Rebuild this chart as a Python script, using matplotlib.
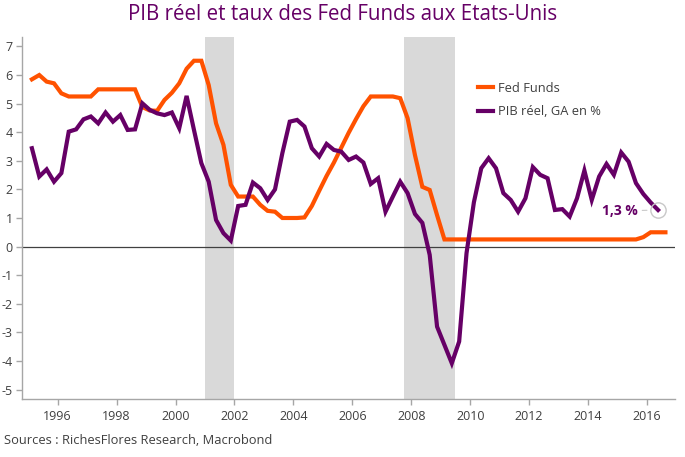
import matplotlib

matplotlib.use("Agg")
import matplotlib.pyplot as plt
import numpy as np
import pandas as pd

# Quarterly data, 1995Q1 onwards
fed_funds = [
    5.85, 6.00, 5.77, 5.71,
    5.36, 5.25, 5.25, 5.25,
    5.25, 5.50, 5.50, 5.50,
    5.50, 5.50, 5.50, 4.88,
    4.76, 4.75, 5.13, 5.38,
    5.71, 6.22, 6.50, 6.50,
    5.65, 4.31, 3.56, 2.16,
    1.75, 1.75, 1.75, 1.46,
    1.25, 1.22, 1.00, 1.00,
    1.00, 1.02, 1.42, 1.95,
    2.47, 2.94, 3.46, 3.98,
    4.46, 4.91, 5.25, 5.25,
    5.25, 5.25, 5.19, 4.49,
    3.20, 2.09, 1.98, 1.10,
    0.25, 0.25, 0.25, 0.25,
    0.25, 0.25, 0.25, 0.25,
    0.25, 0.25, 0.25, 0.25,
    0.25, 0.25, 0.25, 0.25,
    0.25, 0.25, 0.25, 0.25,
    0.25, 0.25, 0.25, 0.25,
    0.25, 0.25, 0.25, 0.33,
    0.50, 0.50, 0.50,
]

pib_reel = [
    3.44, 2.45, 2.70, 2.27,
    2.57, 4.02, 4.10, 4.45,
    4.55, 4.31, 4.69, 4.37,
    4.60, 4.08, 4.10, 5.01,
    4.78, 4.66, 4.60, 4.69,
    4.14, 5.27, 4.08, 2.92,
    2.27, 0.93, 0.47, 0.21,
    1.42, 1.46, 2.24, 2.04,
    1.63, 2.00, 3.27, 4.37,
    4.43, 4.20, 3.44, 3.15,
    3.59, 3.38, 3.32, 3.03,
    3.15, 2.94, 2.19, 2.39,
    1.22, 1.75, 2.27, 1.87,
    1.14, 0.83, -0.29, -2.80,
    -3.44, -4.08, -3.32, -0.23,
    1.55, 2.74, 3.09, 2.74,
    1.87, 1.63, 1.22, 1.69,
    2.78, 2.51, 2.39, 1.28,
    1.31, 1.05, 1.69, 2.66,
    1.63, 2.45, 2.89, 2.51,
    3.29, 2.97, 2.22, 1.84,
    1.54, 1.28,
]

recessions = [(2001.0, 2002.0), (2007.75, 2009.5)]
x_ticks = list(range(1996, 2017, 2))
y_ticks = list(range(-5, 8))

title = "PIB réel et taux des Fed Funds aux Etats-Unis"
source = "Sources : RichesFlores Research, Macrobond"


def quarter_years(start, n):
    """Decimal year at the middle of each quarter."""
    q = pd.period_range(start, periods=n, freq="Q")
    return np.array(q.year + (q.quarter - 0.5) / 4.0)


orange = "#FF5200"
purple = "#660066"
text_col = "#3F3F3F"
axis_col = "#A6A6A6"

plt.rcParams["font.family"] = ["Open Sans", "DejaVu Sans"]
plt.rcParams["axes.unicode_minus"] = False

fig = plt.figure(figsize=(6.85, 4.57), dpi=100)
ax = fig.add_axes([0.0326, 0.127, 0.9528, 0.792])

x_ff = quarter_years("1995Q1", len(fed_funds))
x_gdp = quarter_years("1995Q1", len(pib_reel))

for start, end in recessions:
    ax.axvspan(start, end, color="#D9D9D9", lw=0, zorder=0)

ax.axhline(0, color="#404040", lw=0.9, zorder=1)

ax.plot(x_ff, fed_funds, color=orange, lw=3.0, label="Fed Funds",
        solid_joinstyle="miter", zorder=3)
ax.plot(x_gdp, pib_reel, color=purple, lw=3.0, label="PIB réel, GA en %",
        solid_joinstyle="miter", zorder=4)

# last value marker and label
ax.plot(x_gdp[-1], pib_reel[-1], "o", ms=11, mfc="none", mec="#C8C8C8",
        mew=1.0, zorder=5)
ax.annotate(
    f"{pib_reel[-1]:.1f} %".replace(".", ","),
    xy=(x_gdp[-1], pib_reel[-1]),
    xytext=(-20, -1),
    textcoords="offset pixels",
    ha="right",
    va="center",
    fontsize=10,
    fontweight="bold",
    color=purple,
    arrowprops=dict(arrowstyle="-", color="#C8C8C8", lw=0.8, shrinkA=1, shrinkB=8),
)

ax.set_xlim(1994.8, 2016.95)
ax.set_ylim(-5.33, 7.33)
ax.set_xticks(x_ticks)
ax.set_yticks(y_ticks)

for side in ["top", "right"]:
    ax.spines[side].set_visible(False)
for side in ["left", "bottom"]:
    ax.spines[side].set_color(axis_col)
    ax.spines[side].set_linewidth(1.0)

ax.tick_params(axis="both", colors=axis_col, labelcolor=text_col,
               labelsize=9, length=4, width=1.0)
ax.tick_params(axis="y", pad=3)
ax.tick_params(axis="x", pad=4)

leg = ax.legend(
    loc="upper left",
    bbox_to_anchor=(478 / 685, 1 - 82 / 457),
    bbox_transform=fig.transFigure,
    frameon=False,
    fontsize=9.3,
    handlelength=1.2,
    handletextpad=0.35,
    labelspacing=0.8,
    borderpad=0,
    borderaxespad=0,
)
for txt in leg.get_texts():
    txt.set_color(text_col)

fig.text(0.5, 1 - 15 / 457, title, ha="center", va="center",
         fontsize=14.8, color=purple)
fig.text(4 / 685, 1 - 441 / 457, source, ha="left", va="center",
         fontsize=9.3, color=text_col)

fig.savefig("out.png", dpi=100)
